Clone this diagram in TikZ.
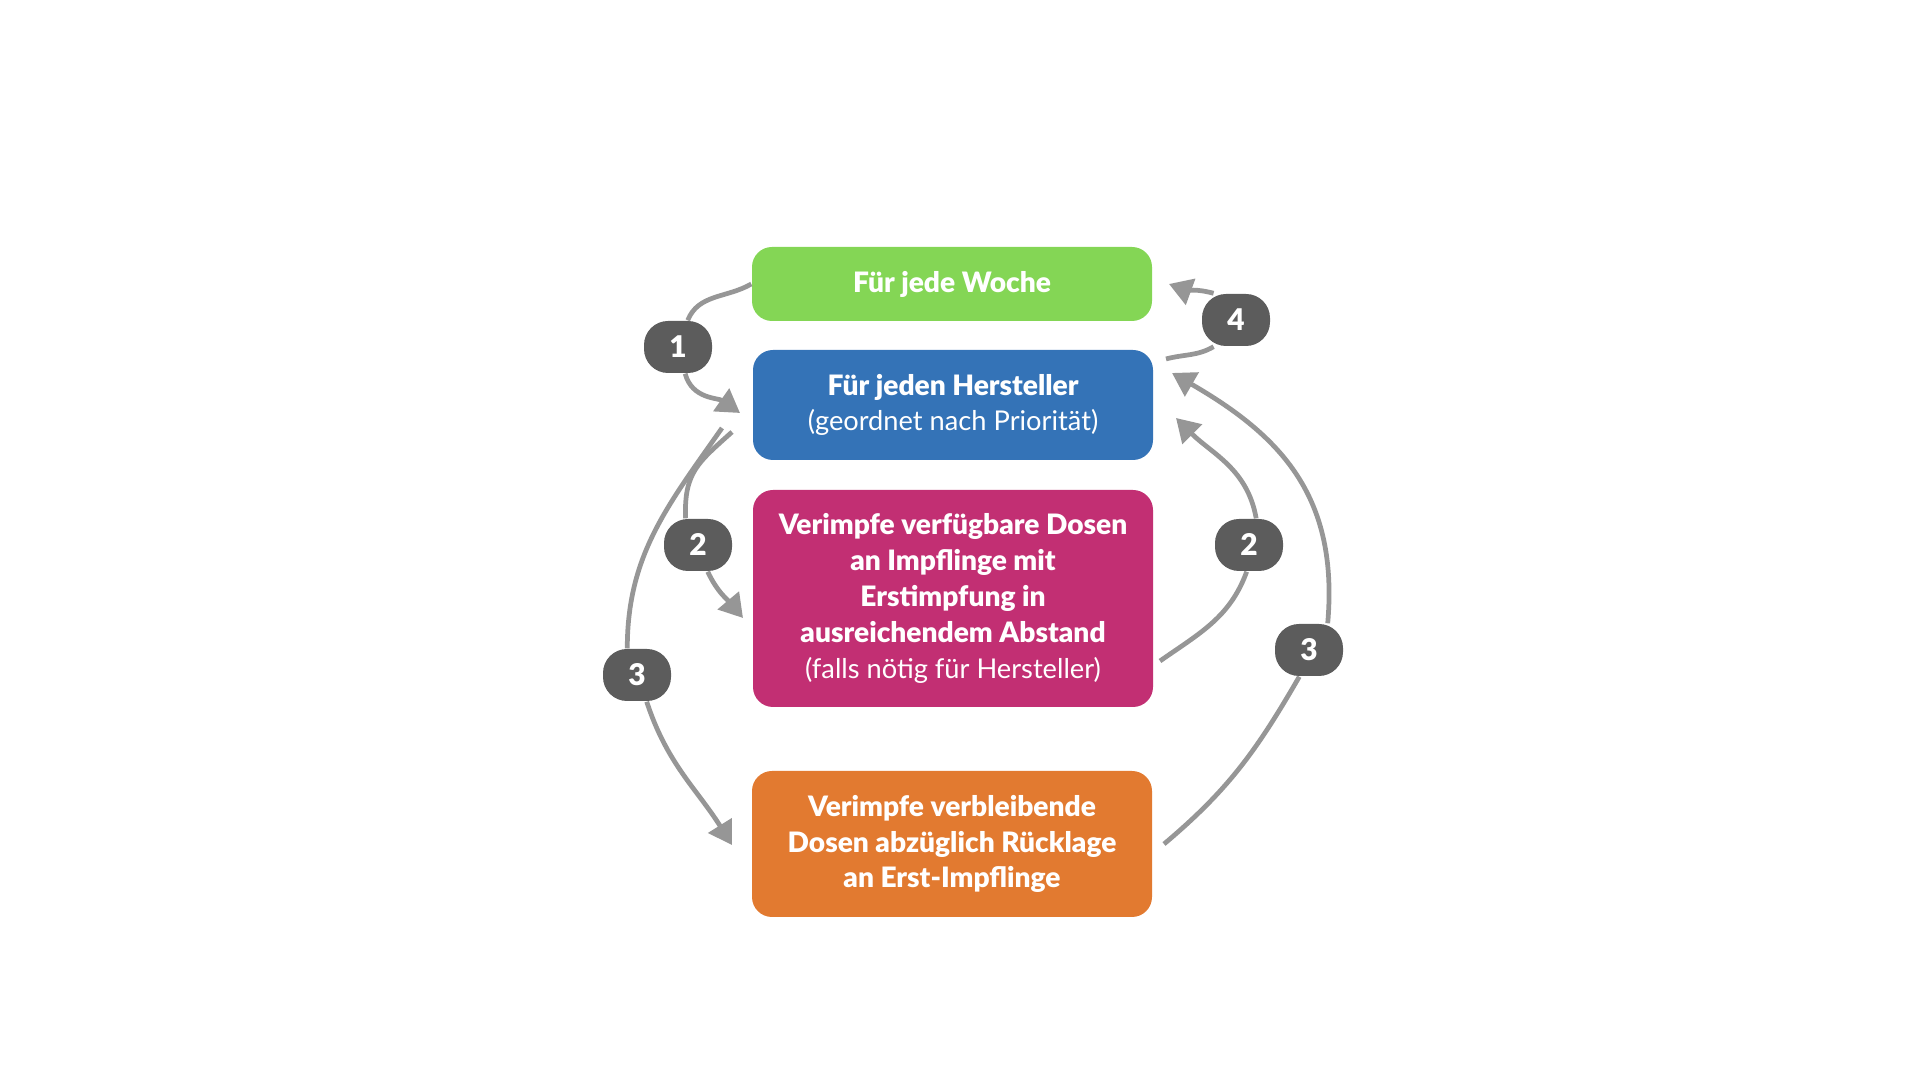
\documentclass[tikz,border=0pt]{standalone}
\usepackage{fontspec}
\setmainfont{Lato}[BoldFont={Lato Black}]
\usetikzlibrary{arrows.meta}
\definecolor{woche}{RGB}{132,214,85}
\definecolor{hersteller}{RGB}{52,115,183}
\definecolor{zweit}{RGB}{194,47,115}
\definecolor{rest}{RGB}{226,122,48}
\definecolor{badgegray}{RGB}{92,92,92}
\definecolor{arrowgray}{RGB}{150,150,150}
\newcommand{\sublabel}{\mdseries\fontsize{7.75}{10.2}\selectfont}

\begin{document}
\begin{tikzpicture}[
    box/.style={rounded corners=0.2cm, minimum width=4cm, inner sep=0pt, text=white, align=center,
      font=\bfseries\fontsize{8}{10.2}\selectfont},
    badge/.style={fill=badgegray, rounded corners=0.24cm, minimum width=0.68cm, minimum height=0.52cm,
      inner sep=0pt, text=white, font=\bfseries\fontsize{8.5}{9}\selectfont},
    flowin/.style={draw=arrowgray, line width=1.35pt},
    flow/.style={flowin, -{Triangle[length=0.23cm,width=0.27cm]}}]
  \useasboundingbox (0,0) rectangle (19.2,10.8);

  % Steps
  \node[box, fill=woche, minimum height=0.74cm] (woche) at (9.52,7.96) {Für jede Woche};
  \node[box, fill=hersteller, minimum height=1.10cm] (hersteller) at (9.53,6.75)
    {Für jeden Hersteller\\\sublabel(geordnet nach Priorität)};
  \node[box, fill=zweit, minimum height=2.17cm] (zweit) at (9.53,4.815)
    {Verimpfe verfügbare Dosen\\an Impflinge mit\\Erstimpfung in\\ausreichendem Abstand\\\sublabel(falls nötig für Hersteller)};
  \node[box, fill=rest, minimum height=1.46cm] (rest) at (9.52,2.36)
    {Verimpfe verbleibende\\Dosen abzüglich Rücklage\\an Erst-Impflinge};

  % Loop badges
  \node[badge] (b1) at (6.78,7.33) {1};
  \node[badge] (b2l) at (6.98,5.35) {2};
  \node[badge] (b3l) at (6.37,4.05) {3};
  \node[badge] (b4) at (12.36,7.60) {4};
  \node[badge] (b2r) at (12.49,5.35) {2};
  \node[badge] (b3r) at (13.09,4.30) {3};

  % Free ends
  \coordinate (s2l) at (7.32,6.48);
  \coordinate (s3l) at (7.22,6.52);
  \coordinate (t1) at (7.40,6.67);
  \coordinate (t2l) at (7.43,4.62);
  \coordinate (t3l) at (7.32,2.35);
  \coordinate (s4) at (11.66,7.21);
  \coordinate (t4) at (11.69,7.96);
  \coordinate (s2r) at (11.60,4.19);
  \coordinate (t2r) at (11.76,6.62);
  \coordinate (s3r) at (11.64,2.36);
  \coordinate (t3r) at (11.72,7.07);

  % Left side
  \draw[flowin] (woche.west) to[out=210,in=68] (b1.70);
  \draw[flow] (b1.-75) to[out=-75,in=145] (t1);
  \draw[flowin] (s2l) to[out=222,in=92,looseness=1.2] (b2l.115);
  \draw[flow] (b2l.-70) to[out=-65,in=130] (t2l);
  \draw[flowin] (s3l) to[out=235,in=90] (b3l.110);
  \draw[flow] (b3l.-70) to[out=-72,in=122] (t3l);

  % Right side
  \draw[flowin] (s4) to[out=15,in=210] (b4.230);
  \draw[flow] (b4.130) to[out=165,in=-20] (t4);
  \draw[flowin] (s2r) to[out=35,in=-110] (b2r.265);
  \draw[flow] (b2r.75) to[out=100,in=-45] (t2r);
  \draw[flowin] (s3r) to[out=40,in=-120] (b3r.250);
  \draw[flow] (b3r.55) to[out=85,in=-30,looseness=1.1] (t3r);
\end{tikzpicture}
\end{document}
